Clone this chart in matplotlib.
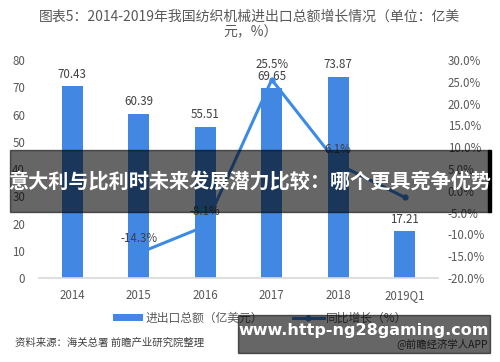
import matplotlib.pyplot as plt
import numpy as np

plt.rcParams['font.family'] = ['Noto Sans CJK SC', 'DejaVu Sans']

# datos
categorias = ['2014', '2015', '2016', '2017', '2018', '2019Q1']
total = [70.43, 60.39, 55.51, 69.65, 73.87, 17.21]
crecimiento = [None, -14.3, -8.1, 25.5, 6.1, -1.5]

color_barra = '#4287e2'
color_linea = '#3d8be6'
gris = '#595959'

fig = plt.figure(figsize=(5, 3.62), dpi=100)
ax = fig.add_axes([0.078, 0.232, 0.798, 0.602])
ax2 = ax.twinx()

x = np.arange(len(categorias))
barras = ax.bar(x, total, width=0.32, color=color_barra, zorder=2)
for xi, v in zip(x, total):
    ax.annotate(f'{v:.2f}', (xi, v), xytext=(0, 4), textcoords='offset points',
                ha='center', va='bottom', fontsize=8.3, color='#404040')

xs = [xi for xi, g in zip(x, crecimiento) if g is not None]
gs = [g for g in crecimiento if g is not None]
linea, = ax2.plot(xs, gs, color=color_linea, lw=2.2, marker='o', ms=3.5, zorder=3)
for xi, g in zip(xs[:-1], gs[:-1]):
    ax2.annotate(f'{g:.1f}%', (xi, g), xytext=(0, 6), textcoords='offset points',
                 ha='center', va='bottom', fontsize=8.3, color='#404040')

ax.set_xlim(-0.5, len(categorias) - 0.5)
ax.set_ylim(0, 80)
ax2.set_ylim(-20, 30)
ax.set_yticks(range(0, 81, 10))
ax2.set_yticks(range(-20, 31, 5))
ax2.set_yticklabels([f'{v:.1f}%' for v in range(-20, 31, 5)])
ax.set_xticks(x)
ax.set_xticklabels(categorias)

for a in (ax, ax2):
    for s in a.spines.values():
        s.set_visible(False)
    a.tick_params(length=0, labelsize=8.3, labelcolor=gris)
ax.spines['bottom'].set_visible(True)
ax.spines['bottom'].set_color('#d9d9d9')
ax.spines['bottom'].set_linewidth(1.2)
ax.tick_params(axis='x', pad=8)
ax.tick_params(axis='y', pad=10)
ax2.tick_params(axis='y', pad=7)

fig.text(0.5, 0.953, '图表5：2014-2019年我国纺织机械进出口总额增长情况（单位：亿美',
         ha='center', va='center', fontsize=10, color=gris)
fig.text(0.5, 0.91, '元，%）', ha='center', va='center', fontsize=10, color=gris)

fig.legend([barras, linea], ['进出口总额（亿美元）', '同比增长（%）'], ncol=2,
           loc='center', bbox_to_anchor=(0.52, 0.122), frameon=False,
           fontsize=8.5, labelcolor=gris, handlelength=2.6, handleheight=0.5,
           columnspacing=2.5, handletextpad=0.2)

fig.text(0.03, 0.052, '资料来源：海关总署 前瞻产业研究院整理', fontsize=7.5,
         color='#404040', style='italic', va='center')
fig.text(0.975, 0.052, '@前瞻经济学人APP', fontsize=7.5, color='#404040',
         ha='right', va='center')

# franjas superpuestas
fig.patches.append(plt.Rectangle((0.02, 1 - 212 / 362), 0.96, 62 / 362,
                                 transform=fig.transFigure, color='black',
                                 alpha=0.6, zorder=10))
fig.patches.append(plt.Rectangle((0.976, 1 - 212 / 362), 0.006, 62 / 362,
                                 transform=fig.transFigure, color='black', zorder=10))
fig.text(0.5, 1 - 181 / 362, '意大利与比利时未来发展潜力比较：哪个更具竞争优势',
         ha='center', va='center', fontsize=14.5, fontweight='bold',
         color='white', zorder=11)

fig.patches.append(plt.Rectangle((238 / 500, 1 - 353 / 362), 252 / 500, 38 / 362,
                                 transform=fig.transFigure, color='black',
                                 alpha=0.6, zorder=10))
fig.text(364 / 500, 1 - 331 / 362, 'www.http-ng28gaming.com', ha='center',
         va='center', fontsize=11.5, fontweight='bold', color='white',
         family='DejaVu Sans', zorder=11)

fig.savefig('out.png', dpi=100)
